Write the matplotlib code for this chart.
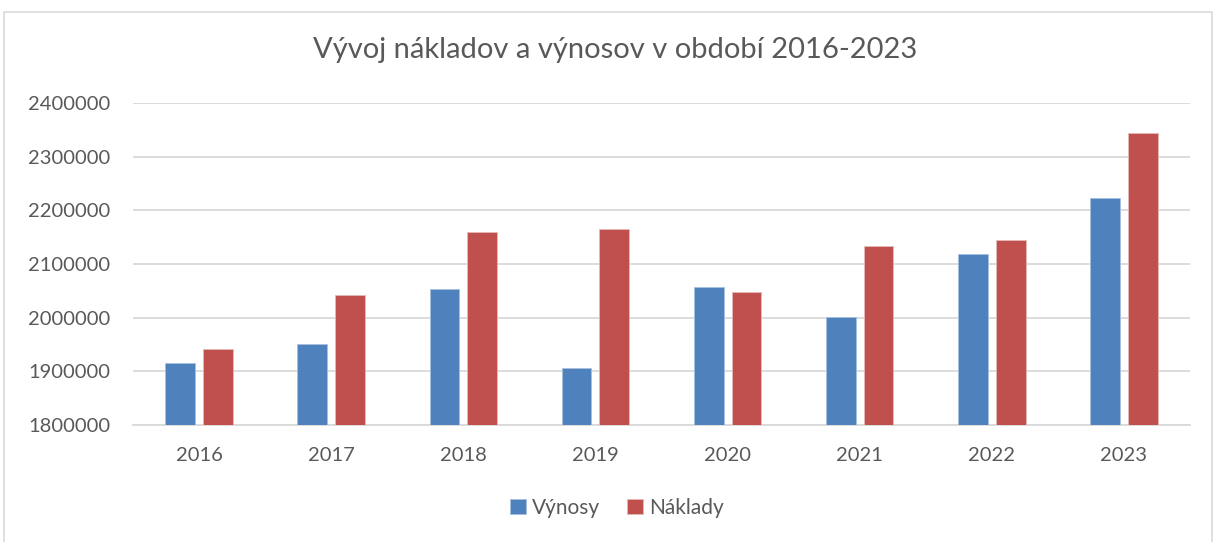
import matplotlib
matplotlib.use("Agg")
import matplotlib.pyplot as plt
import numpy as np
from matplotlib.patches import Rectangle

years = ["2016", "2017", "2018", "2019", "2020", "2021", "2022", "2023"]
vynosy = [1915200, 1951300, 2053400, 1905900, 2057800, 2001700, 2119400, 2222200]
naklady = [1942000, 2042200, 2160500, 2164300, 2047200, 2133100, 2145000, 2344800]
yticks = [1800000, 1900000, 2000000, 2100000, 2200000, 2300000, 2400000]
title = "Vývoj nákladov a výnosov v období 2016-2023"
series_names = ["Výnosy", "Náklady"]

plt.rcParams['font.family'] = ['Lato', 'DejaVu Sans']
W, H = 1216, 542
fig = plt.figure(figsize=(W / 100, H / 100), dpi=100)
fig.patch.set_facecolor("white")

# outer chart border
fig.patches.append(Rectangle((4 / W, -0.01), 1208 / W, 1 - 12 / H + 0.01,
                             transform=fig.transFigure, fill=False,
                             edgecolor="#d9d9d9", linewidth=1.2))

ax = fig.add_axes([133 / W, 1 - 425 / H, (1190 - 133) / W, (425 - 103) / H])
x = np.arange(len(years))
bw = 0.225
gap = 0.06
blue = "#4F81BD"
red = "#C0504D"
ax.bar(x - (bw + gap) / 2, vynosy, bw, color=blue, edgecolor="#a7c0de",
       linewidth=0.6, label=series_names[0], zorder=3)
ax.bar(x + (bw + gap) / 2, naklady, bw, color=red, edgecolor="#e6b9b8",
       linewidth=0.6, label=series_names[1], zorder=3)

ax.set_ylim(1800000, 2400000)
ax.set_xlim(-0.5, len(years) - 0.5)
ax.set_yticks(yticks)
ax.set_yticklabels([str(v) for v in yticks])
ax.set_xticks(x)
ax.set_xticklabels(years)
ax.yaxis.grid(True, color="#d9d9d9", linewidth=1.3, zorder=0)
ax.set_axisbelow(True)
for s in ["top", "right", "left"]:
    ax.spines[s].set_visible(False)
ax.spines["bottom"].set_color("#d9d9d9")
ax.spines["bottom"].set_linewidth(1.3)
ax.tick_params(axis="both", length=0, labelsize=14.5, labelcolor="#595959")
ax.tick_params(axis="x", pad=16)
ax.tick_params(axis="y", pad=0)
for lbl in ax.get_yticklabels():
    lbl.set_horizontalalignment("left")
    lbl.set_x(-105 / (1190 - 133))

fig.text(615 / W, 1 - 50 / H, title, ha="center", va="center",
         fontsize=21, color="#595959", fontweight="normal")

leg = fig.legend(loc="center", bbox_to_anchor=(617 / W, 1 - 508 / H),
                 ncol=2, frameon=False, fontsize=15, handlelength=0.75,
                 handleheight=0.75, handletextpad=0.3, columnspacing=1.3)
for t in leg.get_texts():
    t.set_color("#595959")

fig.savefig("out.png", dpi=100, facecolor="white")
